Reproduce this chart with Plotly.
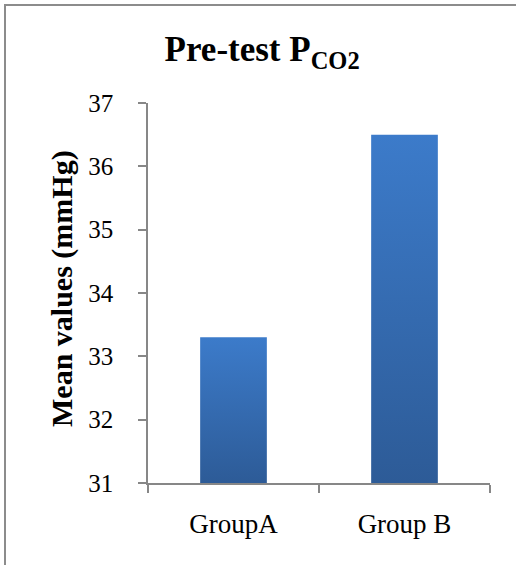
import plotly.graph_objects as go

# Pre-test PCO2 means per group (mmHg)
groups = ["GroupA", "Group B"]
mean_pco2 = [33.3, 36.5]
y_ticks = [31, 32, 33, 34, 35, 36, 37]
y_floor = 31

FONT = "Liberation Serif"
AXIS_GRAY = "#878787"
BAR_LIGHT = "#3C7BCA"
BAR_DARK = "#2D5B97"
BAR_WIDTH = 0.39

fig = go.Figure()

# each bar is a filled column with a vertical light-to-dark shading
for i, (name, val) in enumerate(zip(groups, mean_pco2)):
    half = BAR_WIDTH / 2
    fig.add_trace(
        go.Scatter(
            x=[i - half, i + half, i + half, i - half, i - half],
            y=[y_floor, y_floor, val, val, y_floor],
            mode="lines",
            line=dict(width=0, color=BAR_DARK),
            fill="toself",
            fillgradient=dict(
                type="vertical",
                colorscale=[[0, BAR_DARK], [1, BAR_LIGHT]],
            ),
            name=name,
            hoveron="fills",
            text=f"{name}: {val}",
            hoverinfo="text",
        )
    )

fig.update_layout(
    width=516,
    height=565,
    margin=dict(l=148, r=26, t=103, b=82),
    paper_bgcolor="white",
    plot_bgcolor="white",
    showlegend=False,
    font=dict(family=FONT, color="black"),
    title=dict(
        text="<b>Pre-test P<sub>CO2</sub></b>",
        font=dict(family=FONT, size=35, color="black"),
        x=0.508,
        xanchor="center",
        xref="container",
        y=1 - 49 / 565,
        yanchor="middle",
        yref="container",
    ),
    xaxis=dict(
        range=[-0.5, len(groups) - 0.5],
        tickvals=list(range(len(groups))),
        ticktext=groups,
        showline=True,
        linecolor=AXIS_GRAY,
        linewidth=1.5,
        ticks="",
        minor=dict(
            tickvals=[k - 0.5 for k in range(len(groups) + 1)],
            ticks="outside",
            ticklen=8,
            tickcolor=AXIS_GRAY,
            tickwidth=1.5,
            showgrid=False,
        ),
        tickfont=dict(family=FONT, size=27, color="black"),
        ticklabelstandoff=16,
        showgrid=False,
        zeroline=False,
        fixedrange=True,
    ),
    yaxis=dict(
        range=[y_ticks[0], y_ticks[-1]],
        tickvals=y_ticks,
        showline=True,
        linecolor=AXIS_GRAY,
        linewidth=1.5,
        ticks="outside",
        ticklen=8,
        tickcolor=AXIS_GRAY,
        tickwidth=1.5,
        tickfont=dict(family=FONT, size=25, color="black"),
        ticklabelstandoff=20,
        showgrid=False,
        zeroline=False,
    ),
    annotations=[
        dict(
            text="<b>Mean values (mmHg)</b>",
            textangle=-90,
            xref="paper",
            yref="paper",
            x=(62 - 148) / 342,
            y=(483 - 289) / 380,
            xanchor="center",
            yanchor="middle",
            showarrow=False,
            font=dict(family=FONT, size=30, color="black"),
        )
    ],
    shapes=[
        # outer frame of the chart area (runs off the right and bottom edge)
        dict(
            type="rect",
            xref="paper",
            yref="paper",
            x0=(5 - 148) / 342,
            x1=(540 - 148) / 342,
            y0=(483 - 590) / 380,
            y1=(483 - 5) / 380,
            line=dict(color="#8C8C8C", width=2),
            fillcolor="rgba(0,0,0,0)",
            layer="below",
        )
    ],
)

fig.write_html("out.html")
